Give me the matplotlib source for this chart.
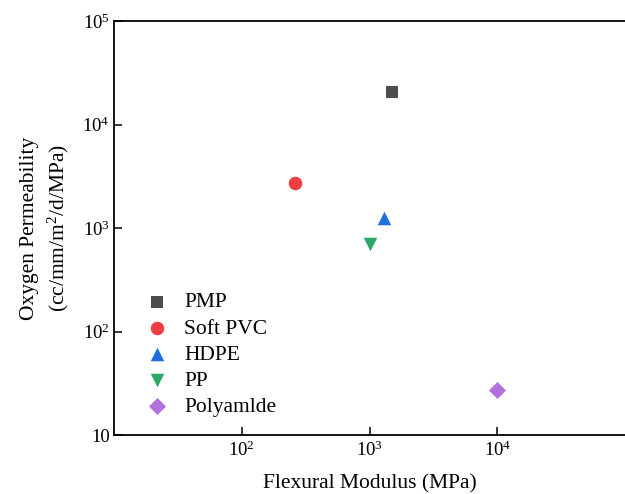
import matplotlib
matplotlib.use("Agg")
import matplotlib.pyplot as plt

plt.rcParams['font.family'] = ['Liberation Serif', 'DejaVu Serif']
plt.rcParams['mathtext.fontset'] = 'custom'
plt.rcParams['mathtext.rm'] = 'Liberation Serif'
plt.rcParams['mathtext.it'] = 'Liberation Serif:italic'

materials = ["PMP", "Soft PVC", "HDPE", "PP", "Polyamlde"]
flexural_modulus = [1500, 260, 1300, 1000, 10000]
oxygen_perm = [20500, 2700, 1260, 705, 27]
markers = ["s", "o", "^", "v", "D"]
colors = ["#4d4d4d", "#ef3e42", "#1c6fdd", "#2fa866", "#b070dd"]
sizes = [70, 95, 95, 95, 75]

xticks = [100, 1000, 10000]
xticklabels = [r"$10^{2}$", r"$10^{3}$", r"$10^{4}$"]
yticks = [10, 100, 1000, 10000, 100000]
yticklabels = ["10", r"$10^{2}$", r"$10^{3}$", r"$10^{4}$", r"$10^{5}$"]

fig = plt.figure(figsize=(6.25, 4.94), dpi=100)
ax = fig.add_axes([0.1824, 0.1194, 0.8176, 0.8381])

for name, x, y, m, c, s in zip(materials, flexural_modulus, oxygen_perm, markers, colors, sizes):
    ax.scatter([x], [y], marker=m, color=c, s=s, label=name, linewidths=0, zorder=3)

ax.set_xscale("log")
ax.set_yscale("log")
ax.set_xlim(10, 1e5)
ax.set_ylim(10, 1e5)
ax.set_xticks(xticks)
ax.set_xticklabels(xticklabels)
ax.set_yticks(yticks)
ax.set_yticklabels(yticklabels)
ax.minorticks_off()
ax.tick_params(axis="both", which="major", direction="in", length=6, width=1.1,
               labelsize=13.5)
ax.tick_params(axis="y", pad=3)
ax.tick_params(axis="x", pad=4)
ax.spines["right"].set_visible(False)
for sp in ["left", "bottom", "top"]:
    ax.spines[sp].set_linewidth(1.3)

ax.set_xlabel("Flexural Modulus (MPa)", fontsize=15.5, labelpad=10)
ax.set_ylabel("Oxygen Permeability\n(cc/mm/m$^{2}$/d/MPa)", fontsize=15.5, labelpad=8,
              linespacing=1.4)

leg = ax.legend(loc="lower left", bbox_to_anchor=(0.034, 0.023), frameon=False,
                fontsize=15.5, handletextpad=0.45, labelspacing=0.28, borderaxespad=0,
                handlelength=1.6)

fig.savefig("out.png", dpi=100)
